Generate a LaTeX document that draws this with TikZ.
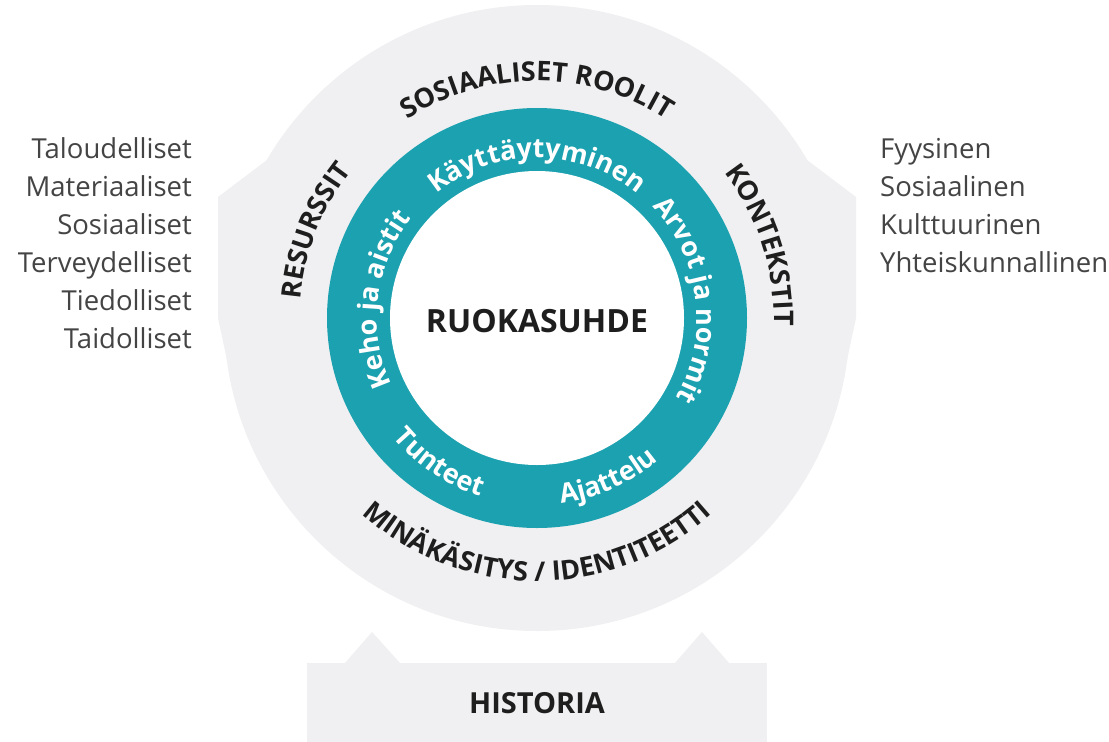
\documentclass[tikz,border=0pt]{standalone}
\usepackage{fontspec}
\setmainfont{Open Sans}
\usetikzlibrary{decorations.text,calc}
\definecolor{ringteal}{HTML}{1BA1AF}
\definecolor{bggray}{HTML}{F0F0F2}
\definecolor{labeltxt}{HTML}{1E1E1E}
\definecolor{listtxt}{HTML}{444444}
\newcommand{\ringfont}{\fontsize{27}{27}\selectfont\bfseries\color{white}}
\newcommand{\outfont}{\fontsize{27}{27}\selectfont\bfseries\color{labeltxt}}
\tikzset{
  listitem/.style={text=listtxt, font=\fontsize{27.5}{27.5}\selectfont, inner sep=0pt},
  bigtitle/.style={text=labeltxt, font=\fontsize{32}{32}\selectfont\bfseries, inner sep=0pt},
  shade/.style={fill=bggray, draw=none}
}
\begin{document}
\begin{tikzpicture}[x=1pt,y=1pt]
\useasboundingbox (0,0) rectangle (1109,-742);
\fill[white] (0,0) rectangle (1109,-742);
\coordinate (C) at (537,-318);
% grey background shape
\fill[shade] (C) circle (313);
\fill[shade] (267,-160) -- (218,-197) -- (218,-318) -- (227,-360) -- (C) -- cycle;
\fill[shade] (807,-160) -- (856,-197) -- (856,-318) -- (847,-360) -- (C) -- cycle;
\fill[shade] (345,-663) -- (372,-632) -- (400,-663) -- cycle;
\fill[shade] (675,-663) -- (702,-632) -- (729,-663) -- cycle;
\fill[shade] (307,-663) rectangle (767,-742);
% teal ring
\fill[ringteal] (C) circle (210);
\fill[white] (C) circle (147);
% centre
\node[bigtitle] (core) at (537,-321) {RUOKASUHDE};
\node[bigtitle, font=\fontsize{29}{29}\selectfont\bfseries] (hist) at (537,-703) {HISTORIA};
% ring labels (clockwise, letters outward)
\path[decorate,decoration={text along path,text align=center,text={|\ringfont|Käyttäytyminen}}]
  ($(C)+(175:160)$) arc[start angle=175,end angle=5,radius=160];
\path[decorate,decoration={text along path,text align=center,text={|\ringfont|Arvot ja normit}}]
  ($(C)+(90:160)$) arc[start angle=90,end angle=-76,radius=160];
\path[decorate,decoration={text along path,text align=center,text={|\ringfont|Keho ja aistit}}]
  ($(C)+(258:160)$) arc[start angle=258,end angle=88,radius=160];
% ring labels (counter-clockwise, letters inward)
\path[decorate,decoration={text along path,text align=center,text={|\ringfont|Ajattelu}}]
  ($(C)+(234:187)$) arc[start angle=234,end angle=354,radius=187];
\path[decorate,decoration={text along path,text align=center,text={|\ringfont|Tunteet}}]
  ($(C)+(176:187)$) arc[start angle=176,end angle=296,radius=187];
% outer labels
\path[decorate,decoration={text along path,text align=center,text={|\outfont|SOSIAALISET ROOLIT}}]
  ($(C)+(175:237)$) arc[start angle=175,end angle=5,radius=237];
\path[decorate,decoration={text along path,text align=center,text={|\outfont|KONTEKSTIT}}]
  ($(C)+(90:237)$) arc[start angle=90,end angle=-54,radius=237];
\path[decorate,decoration={text along path,text align=center,text={|\outfont|RESURSSIT}}]
  ($(C)+(230:237)$) arc[start angle=230,end angle=87,radius=237];
\path[decorate,decoration={text along path,text align=center,text={|\outfont|MINÄKÄSITYS / IDENTITEETTI}}]
  ($(C)+(180:263)$) arc[start angle=180,end angle=360,radius=263];
% side lists
\node[listitem, anchor=base east] (r1) at (192,-158) {Taloudelliset};
\node[listitem, anchor=base east] (r2) at (192,-196) {Materiaaliset};
\node[listitem, anchor=base east] (r3) at (192,-234) {Sosiaaliset};
\node[listitem, anchor=base east] (r4) at (192,-272) {Terveydelliset};
\node[listitem, anchor=base east] (r5) at (192,-310) {Tiedolliset};
\node[listitem, anchor=base east] (r6) at (192,-348) {Taidolliset};
\node[listitem, anchor=base west] (k1) at (880,-158) {Fyysinen};
\node[listitem, anchor=base west] (k2) at (880,-196) {Sosiaalinen};
\node[listitem, anchor=base west] (k3) at (880,-234) {Kulttuurinen};
\node[listitem, anchor=base west] (k4) at (880,-272) {Yhteiskunnallinen};
\end{tikzpicture}
\end{document}
